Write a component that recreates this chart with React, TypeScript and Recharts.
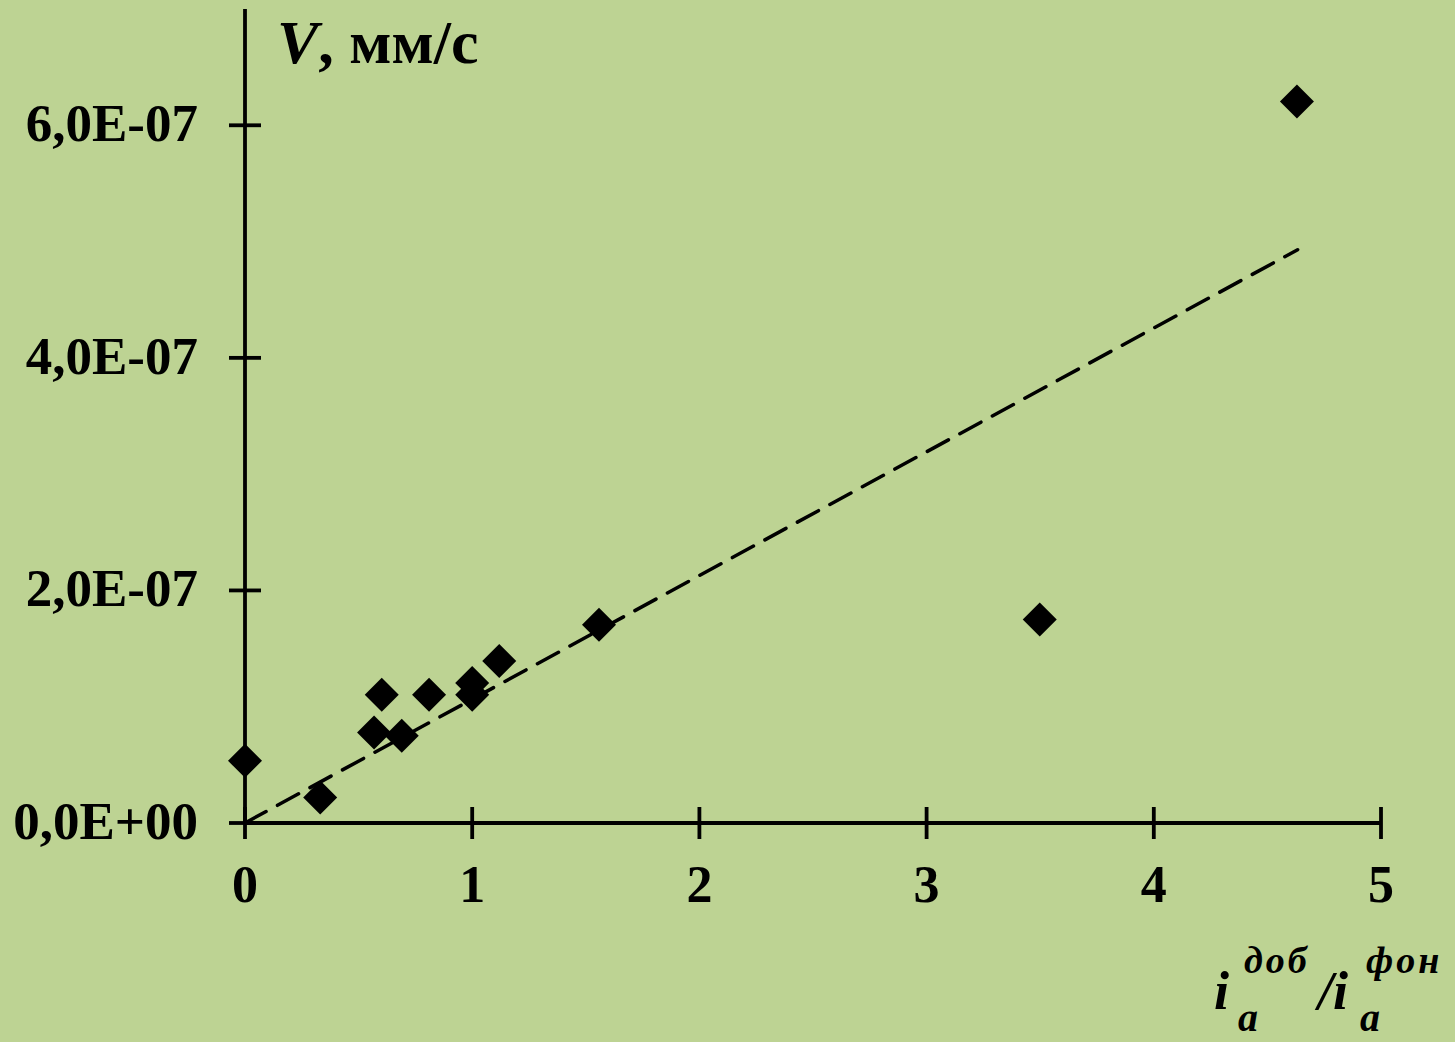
import React from 'react';
import { ComposedChart, Scatter, XAxis, YAxis, ReferenceLine } from 'recharts';

// Ratio i_a^доб / i_a^фон
const ratioValues = [0, 0.331, 0.568, 0.602, 0.69, 0.81, 1.0, 1.0, 1.119, 1.558, 3.498, 4.63];
// V, мм/с
const speedValues = [0.535e-7, 0.22e-7, 0.778e-7, 1.102e-7, 0.75e-7, 1.102e-7, 1.203e-7, 1.102e-7, 1.394e-7, 1.704e-7, 1.75e-7, 6.205e-7];

const trendRatio = [0, 4.633];
const trendSpeed = [0, 4.93e-7];

const xTicks = [0, 1, 2, 3, 4, 5];
const xTickLabels = ['0', '1', '2', '3', '4', '5'];
const yTicks = [0, 2e-7, 4e-7, 6e-7];
const yTickLabels = ['0,0E+00', '2,0E-07', '4,0E-07', '6,0E-07'];

const points = ratioValues.map((x, i) => ({ x, y: speedValues[i] }));

const FONT = '"Liberation Serif", "Times New Roman", serif';
const BG = '#BDD393';

const XTick = (props: any) => {
  const { x, y, payload } = props;
  const idx = xTicks.indexOf(payload.value);
  return (
    <g>
      <line x1={x} x2={x} y1={y - 16} y2={y + 16} stroke="#000" strokeWidth={3.8} />
      <text x={x} y={y + 79} textAnchor="middle" fontFamily={FONT} fontWeight="bold" fontSize={52} fill="#000">
        {idx >= 0 ? xTickLabels[idx] : payload.value}
      </text>
    </g>
  );
};

const YTick = (props: any) => {
  const { x, y, payload } = props;
  let idx = -1;
  yTicks.forEach((t, i) => {
    if (Math.abs(t - payload.value) < 1e-12) idx = i;
  });
  return (
    <g>
      <line x1={x - 16} x2={x + 16} y1={y} y2={y} stroke="#000" strokeWidth={3.8} />
      <text x={x - 47} y={y + 16} textAnchor="end" fontFamily={FONT} fontWeight="bold" fontSize={53} fill="#000">
        {idx >= 0 ? yTickLabels[idx] : String(payload.value)}
      </text>
    </g>
  );
};

const Diamond = (props: any) => {
  const { cx, cy } = props;
  if (cx == null || cy == null) return null;
  const r = 17;
  return <polygon points={`${cx},${cy - r} ${cx + r},${cy} ${cx},${cy + r} ${cx - r},${cy}`} fill="#000" />;
};

const YTitle = () => (
  <text x={277} y={63} fontFamily={FONT} fontWeight="bold" fontSize={62} fill="#000">
    <tspan fontStyle="italic">V</tspan>
    <tspan>, мм/с</tspan>
  </text>
);

const XTitle = () => (
  <g fontFamily={FONT} fontWeight="bold" fontStyle="italic" fill="#000">
    <text x={1214} y={1009} fontSize={54}>i</text>
    <text x={1238} y={1031} fontSize={40}>a</text>
    <text x={1244} y={973} fontSize={38} letterSpacing={3}>доб</text>
    <text x={1318} y={1009} fontSize={54}>/i</text>
    <text x={1360} y={1031} fontSize={40}>a</text>
    <text x={1366} y={973} fontSize={38} letterSpacing={3}>фон</text>
  </g>
);

export default function App() {
  return (
    <div style={{ position: 'absolute', left: 0, top: 0, width: 1455, height: 1042, background: BG, overflow: 'hidden' }}>
      <ComposedChart width={1455} height={1042} data={points} margin={{ top: 9, right: 74, bottom: 218, left: 244 }}>
        <XAxis
          dataKey="x"
          type="number"
          domain={[0, 5]}
          ticks={xTicks}
          height={1}
          tickSize={0}
          tickMargin={0}
          tickLine={false}
          axisLine={{ stroke: '#000', strokeWidth: 3.8 }}
          tick={<XTick />}
          interval={0}
          label={<XTitle />}
        />
        <YAxis
          dataKey="y"
          type="number"
          domain={[0, 7e-7]}
          ticks={yTicks}
          width={1}
          tickSize={0}
          tickMargin={0}
          tickLine={false}
          axisLine={{ stroke: '#000', strokeWidth: 3.8 }}
          tick={<YTick />}
          interval={0}
          label={<YTitle />}
        />
        <ReferenceLine
          segment={[
            { x: trendRatio[0], y: trendSpeed[0] },
            { x: trendRatio[1], y: trendSpeed[1] },
          ]}
          stroke="#000"
          strokeWidth={3.5}
          strokeDasharray="24 13"
          strokeLinecap="round"
        />
        <Scatter data={points} dataKey="y" fill="#000" shape={<Diamond />} isAnimationActive={false} />
      </ComposedChart>
    </div>
  );
}
